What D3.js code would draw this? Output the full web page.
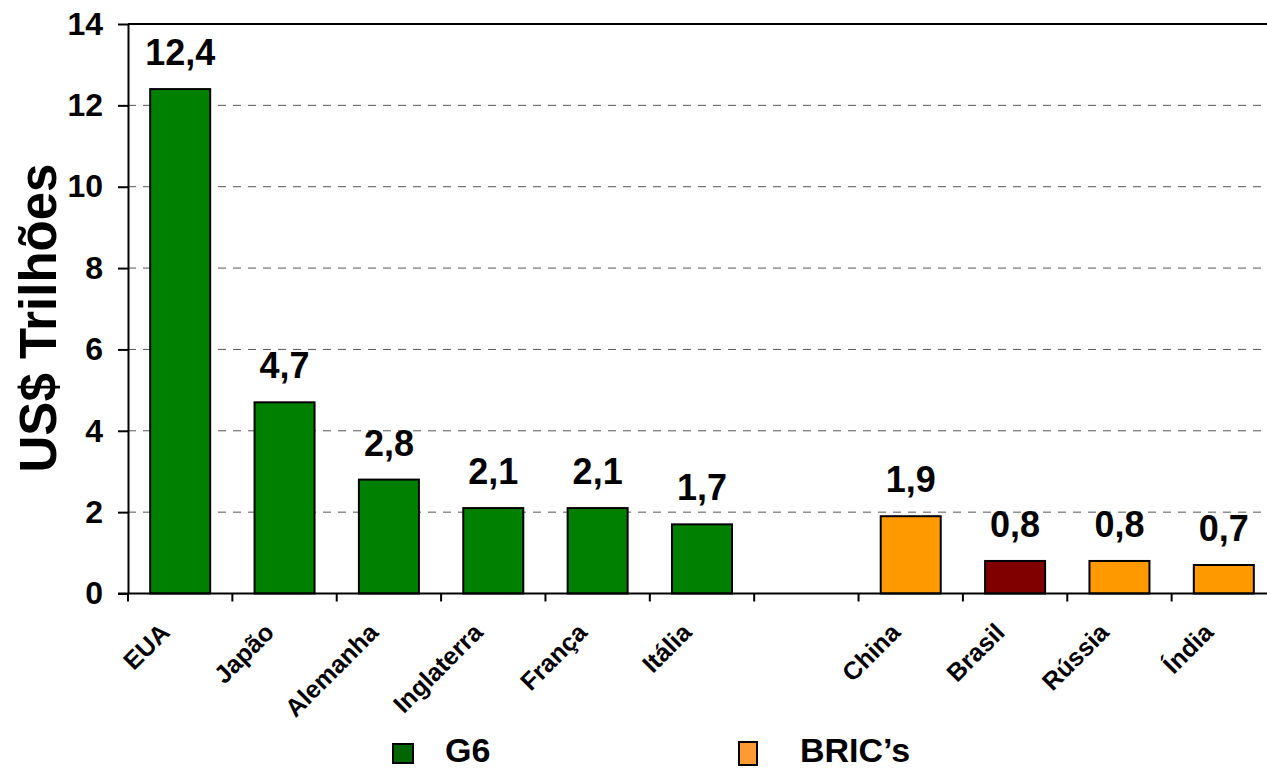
<!DOCTYPE html>
<html>
<head>
<meta charset="utf-8">
<script src="https://cdn.jsdelivr.net/npm/d3@7"></script>
<style>
  body { margin: 0; background: #fff; }
  text { font-family: Arial, "Liberation Sans", sans-serif; font-weight: bold; fill: #000; }
</style>
</head>
<body>
<div id="chart"></div>
<script>
const width = 1267;
const height = 771;

// data
const countries = ["EUA", "Japão", "Alemanha", "Inglaterra", "França", "Itália", "", "China", "Brasil", "Rússia", "Índia"];
const values = [12.4, 4.7, 2.8, 2.1, 2.1, 1.7, null, 1.9, 0.8, 0.8, 0.7];
const groups = ["G6", "G6", "G6", "G6", "G6", "G6", null, "BRIC", "BRIC", "BRIC", "BRIC"];
const highlighted = ["Brasil"];
const yTicks = [0, 2, 4, 6, 8, 10, 12, 14];
const legendLabels = ["G6", "BRIC’s"];

const barColor = { G6: "#008000", BRIC: "#FF9900" };
const highlightColor = "#800000";
const legendColor = ["#006600", "#FF9933"];

const svg = d3.select("#chart")
    .append("svg")
    .attr("width", width)
    .attr("height", height);

const x = d3.scaleBand()
    .domain(d3.range(countries.length))
    .range([128, 1276])
    .paddingInner(0.425)
    .paddingOuter(0.2125);

const y = d3.scaleLinear()
    .domain([0, 14])
    .range([593.5, 24]);

const x0 = x.range()[0], x1 = x.range()[1];

// gridlines
svg.selectAll(".grid")
    .data(yTicks.filter(t => t > 0 && t < 14))
    .enter().append("line")
    .attr("x1", x0)
    .attr("x2", x1)
    .attr("y1", d => y(d))
    .attr("y2", d => y(d))
    .attr("stroke", "#555")
    .attr("stroke-width", 1)
    .attr("stroke-dasharray", "8,7");

// top border of plot area
svg.append("line")
    .attr("x1", x0).attr("x2", x1)
    .attr("y1", y(14)).attr("y2", y(14))
    .attr("stroke", "#000").attr("stroke-width", 2);

// bars
const idx = d3.range(countries.length).filter(i => values[i] != null);
svg.selectAll(".bar")
    .data(idx)
    .enter().append("rect")
    .attr("x", i => x(i))
    .attr("y", i => y(values[i]))
    .attr("width", x.bandwidth())
    .attr("height", i => y(0) - y(values[i]))
    .attr("fill", i => highlighted.includes(countries[i]) ? highlightColor : barColor[groups[i]])
    .attr("stroke", "#000")
    .attr("stroke-width", 2);

// value labels
svg.selectAll(".value")
    .data(idx)
    .enter().append("text")
    .attr("x", i => x(i) + x.bandwidth() / 2)
    .attr("y", i => y(values[i]) - 24)
    .attr("text-anchor", "middle")
    .style("font-size", "36px")
    .text(i => d3.format(".1f")(values[i]).replace(".", ","));

// y axis
const yAxis = svg.append("g")
    .attr("transform", `translate(${x0},0)`)
    .call(d3.axisLeft(y).tickValues(yTicks).tickSize(10).tickSizeOuter(0).tickPadding(15).tickFormat(d3.format("d")));
yAxis.select(".domain").attr("stroke", "#000").attr("stroke-width", 2);
yAxis.selectAll(".tick line").attr("stroke", "#000").attr("stroke-width", 2);
yAxis.selectAll(".tick text")
    .style("font-size", "32px")
    .style("font-family", "Arial, 'Liberation Sans', sans-serif")
    .style("font-weight", "bold")
    .attr("fill", "#000");

// x axis line and ticks between categories
svg.append("line")
    .attr("x1", x0 - 10).attr("x2", x1)
    .attr("y1", y(0)).attr("y2", y(0))
    .attr("stroke", "#000").attr("stroke-width", 2);

svg.selectAll(".xtick")
    .data(d3.range(countries.length + 1))
    .enter().append("line")
    .attr("x1", k => x0 + k * x.step())
    .attr("x2", k => x0 + k * x.step())
    .attr("y1", y(0))
    .attr("y2", y(0) + 8)
    .attr("stroke", "#000")
    .attr("stroke-width", 2);

// category labels
svg.selectAll(".xlabel")
    .data(d3.range(countries.length))
    .enter().append("text")
    .attr("transform", i => `translate(${x(i) + x.bandwidth() / 2 - 9},634) rotate(-45)`)
    .attr("text-anchor", "end")
    .style("font-size", "25px")
    .text(i => countries[i]);

// y axis title
svg.append("text")
    .attr("transform", "translate(56,318) rotate(-90)")
    .attr("text-anchor", "middle")
    .style("font-size", "51px")
    .text("US$ Trilhões");

// legend
const legendX = [393, 739];
const legend = svg.selectAll(".legend")
    .data(legendLabels)
    .enter().append("g")
    .attr("transform", (d, i) => `translate(${legendX[i]},0)`);

legend.append("rect")
    .attr("x", 0)
    .attr("y", (d, i) => i === 0 ? 744 : 742)
    .attr("width", (d, i) => i === 0 ? 20 : 18)
    .attr("height", (d, i) => i === 0 ? 19 : 23)
    .attr("fill", (d, i) => legendColor[i])
    .attr("stroke", "#000")
    .attr("stroke-width", 2);

legend.append("text")
    .attr("x", (d, i) => i === 0 ? 52 : 61)
    .attr("y", 762)
    .style("font-size", "34px")
    .text(d => d);
</script>
</body>
</html>
